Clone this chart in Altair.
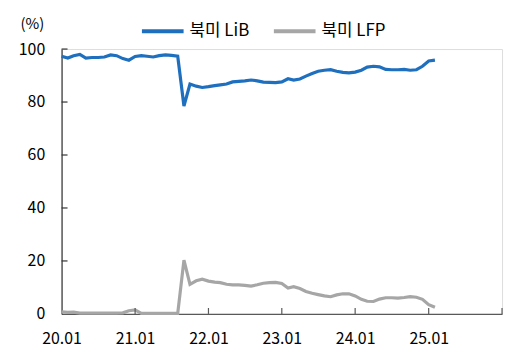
import altair as alt
import pandas as pd

# Monthly data, Jan 2020 - Feb 2025
months = [f"{2020 + i // 12}-{i % 12 + 1:02d}-01" for i in range(62)]
lib = [97.3, 96.6, 97.5, 98.0, 96.6, 96.8, 96.8, 97.0, 97.8, 97.5,
       96.4, 95.8, 97.2, 97.5, 97.3, 97.0, 97.5, 97.8, 97.6, 97.3,
       78.5, 86.8, 86.0, 85.5, 85.8, 86.2, 86.5, 86.8, 87.6, 87.8,
       88.0, 88.3, 88.0, 87.5, 87.4, 87.3, 87.6, 88.8, 88.3, 88.7,
       89.8, 90.8, 91.6, 92.0, 92.2, 91.6, 91.2, 91.0, 91.3, 92.0,
       93.2, 93.5, 93.3, 92.3, 92.2, 92.2, 92.3, 92.0, 92.2, 93.5,
       95.5, 95.8]
lfp = [0.8, 0.6, 0.7, 0.3, 0.3, 0.3, 0.3, 0.3, 0.3, 0.3,
       0.4, 1.2, 1.5, 0.2, 0.2, 0.2, 0.2, 0.2, 0.2, 0.2,
       20.3, 11.2, 12.5, 13.1, 12.4, 12.0, 11.8, 11.2, 11.0, 11.0,
       10.8, 10.5, 11.0, 11.6, 11.8, 11.9, 11.5, 9.8, 10.3, 9.6,
       8.5, 7.8, 7.3, 6.8, 6.5, 7.2, 7.6, 7.6, 6.8, 5.5,
       4.8, 4.7, 5.6, 6.1, 6.1, 6.0, 6.2, 6.5, 6.3, 5.5,
       3.5, 2.5]
series_names = ["북미 LiB", "북미 LFP"]
colors = ["#1F6FBF", "#A6A6A6"]
x_label_years = [2020, 2021, 2022, 2023, 2024, 2025]
x_tick_years = [2021, 2022, 2023, 2024, 2025, 2026]
y_ticks = [0, 20, 40, 60, 80, 100]

FONT = "Noto Sans CJK KR"

df = pd.DataFrame({
    "date": months * 2,
    "value": lib + lfp,
    "series": [series_names[0]] * len(lib) + [series_names[1]] * len(lfp),
})
xt_df = pd.DataFrame({"date": [f"{y}-01-01" for y in x_tick_years]})
yt_df = pd.DataFrame({"v": y_ticks[1:]})

x_dates = [alt.DateTime(year=y, month=1, date=1, utc=True) for y in x_label_years]
x_scale = alt.Scale(type="utc", domain=[alt.DateTime(year=2020, month=1, date=1, utc=True),
                                        alt.DateTime(year=2026, month=1, date=1, utc=True)])
y_scale = alt.Scale(domain=[0, 100])

x_axis = alt.Axis(values=x_dates,
                  labelExpr="utcFormat(datum.value, '%y.%m')",
                  tickSize=0, grid=False, domainColor="#595959",
                  domainWidth=1.2, labelFontSize=16, labelFont=FONT,
                  labelColor="#000000", labelPadding=17,
                  labelFlush=False, title=None)
y_axis = alt.Axis(values=y_ticks, tickSize=0, grid=False,
                  domainColor="#333333", domainWidth=1.2,
                  labelFontSize=16, labelFont=FONT, labelColor="#000000",
                  labelPadding=17, title="(%)", titleAngle=0, titleX=-30, titleY=-26,
                  titleAlign="center", titleBaseline="middle",
                  titleFontSize=15, titleFont=FONT, titleFontWeight="normal",
                  titleColor="#000000")

lines = alt.Chart(df).mark_line(strokeWidth=3.2).encode(
    x=alt.X("date:T", scale=x_scale, axis=x_axis),
    y=alt.Y("value:Q", scale=y_scale, axis=y_axis),
    color=alt.Color("series:N", sort=series_names,
                    scale=alt.Scale(domain=series_names, range=colors),
                    legend=alt.Legend(orient="none", legendX=79, legendY=-41,
                                      direction="horizontal", title=None,
                                      symbolType="stroke", symbolSize=1764,
                                      symbolStrokeWidth=4, labelFontSize=17,
                                      labelFont=FONT, labelColor="#000000",
                                      labelOffset=4, columnPadding=16)),
)

xticks = alt.Chart(xt_df).mark_rule(color="#595959", strokeWidth=1.2).encode(
    x=alt.X("date:T", scale=x_scale, axis=x_axis),
    y=alt.value(267), y2=alt.value(261),
)
yticks = alt.Chart(yt_df).mark_rule(color="#333333", strokeWidth=1.2).encode(
    y=alt.Y("v:Q", scale=y_scale, axis=y_axis),
    x=alt.value(0), x2=alt.value(6),
)

chart = alt.layer(lines, xticks, yticks).properties(
    width=444, height=267,
    autosize=alt.AutoSizeParams(type="none"),
    padding={"left": 54, "top": 40, "right": 5, "bottom": 38},
).configure_view(stroke=None).configure(font=FONT)

chart.save("out.html", embed_options={"renderer": "svg", "actions": False})
